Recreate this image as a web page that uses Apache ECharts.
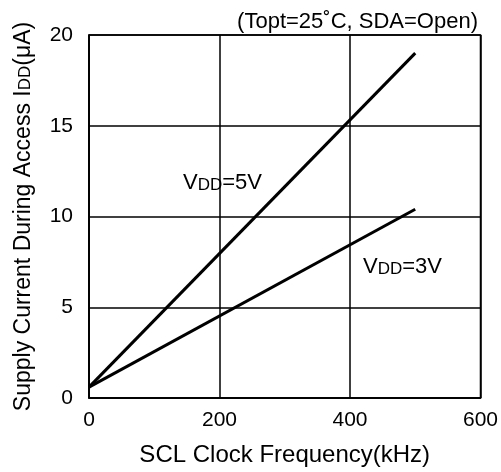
<!DOCTYPE html>
<html>
<head>
<meta charset="utf-8">
<style>
  html, body { margin: 0; padding: 0; background: #fff; }
  #chart { width: 501px; height: 472px; }
</style>
<script src="https://cdn.jsdelivr.net/npm/echarts@6/dist/echarts.min.js"></script>
</head>
<body>
<div id="chart"></div>
<script>
// SCL clock frequency (kHz) at the two ends of each supply-current line
const freqKHz = [0, 500];
// Supply current during access IDD (uA)
const idd5V = [0.6, 19.0];
const idd3V = [0.6, 10.4];
const xTicks = [0, 200, 400, 600];
const yTicks = [0, 5, 10, 15, 20];

const FONT = '"Liberation Sans", Arial, sans-serif';
const chart = echarts.init(document.getElementById('chart'));

function pairs(xs, ys) { return xs.map((x, i) => [x, ys[i]]); }

// "V" + small-caps "DD" subscript style used in the in-plot labels
const vddRich = {
  n: { fontFamily: FONT, fontSize: 22, fill: '#000' },
  s: { fontFamily: FONT, fontSize: 17, fill: '#000', padding: [4, 0, 0, 0] }
};

chart.setOption({
  animation: false,
  backgroundColor: '#fff',
  title: {
    text: '(Topt=25˚C, SDA=Open)',
    right: 18,
    top: 6,
    textStyle: { fontFamily: FONT, fontSize: 22, fontWeight: 'normal', color: '#000' }
  },
  grid: {
    left: 89, right: 19, top: 35, bottom: 71,
    show: true, borderColor: '#000', borderWidth: 1.5, backgroundColor: 'transparent'
  },
  xAxis: {
    type: 'value',
    min: xTicks[0], max: xTicks[xTicks.length - 1], interval: 200,
    name: 'SCL Clock Frequency(kHz)',
    nameLocation: 'middle',
    nameGap: 45,
    nameTextStyle: { fontFamily: FONT, fontSize: 24, color: '#000' },
    axisLine: { show: true, lineStyle: { color: '#000', width: 1.5 } },
    axisTick: { show: false },
    axisLabel: { fontFamily: FONT, fontSize: 21, color: '#000', margin: 12 },
    splitLine: { show: true, lineStyle: { color: '#000', width: 1.5 } }
  },
  yAxis: {
    type: 'value',
    min: yTicks[0], max: yTicks[yTicks.length - 1], interval: 5,
    name: '{n|Supply Current During Access I}{s|DD}{n|(μA)}',
    nameLocation: 'middle',
    nameGap: 54,
    nameRotate: 90,
    nameTextStyle: {
      fontFamily: FONT, fontSize: 23, color: '#000',
      rich: {
        n: { fontFamily: FONT, fontSize: 23, color: '#000' },
        s: { fontFamily: FONT, fontSize: 17, color: '#000', padding: [4, 0, 0, 0] }
      }
    },
    axisLine: { show: true, lineStyle: { color: '#000', width: 1.5 } },
    axisTick: { show: false },
    axisLabel: { fontFamily: FONT, fontSize: 21, color: '#000', margin: 16 },
    splitLine: { show: true, lineStyle: { color: '#000', width: 1.5 } }
  },
  series: [
    {
      name: 'VDD=5V', type: 'line', data: pairs(freqKHz, idd5V),
      symbol: 'none', lineStyle: { color: '#000', width: 3 }, z: 5
    },
    {
      name: 'VDD=3V', type: 'line', data: pairs(freqKHz, idd3V),
      symbol: 'none', lineStyle: { color: '#000', width: 3 }, z: 5
    }
  ],
  graphic: [
    {
      type: 'text', left: 183, top: 172,
      style: { text: '{n|V}{s|DD}{n|=5V}', rich: vddRich }
    },
    {
      type: 'text', left: 363, top: 256,
      style: { text: '{n|V}{s|DD}{n|=3V}', rich: vddRich }
    }
  ]
});
</script>
</body>
</html>
